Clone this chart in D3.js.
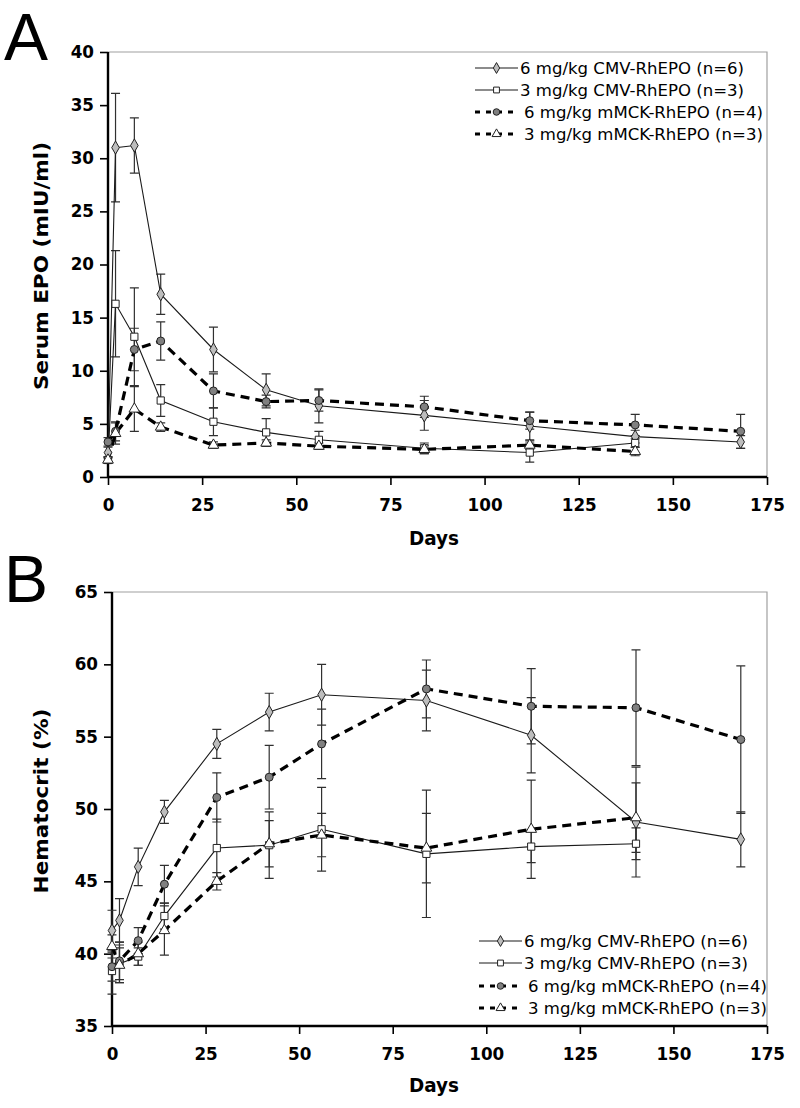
<!DOCTYPE html>
<html><head><meta charset="utf-8">
<script src="https://cdn.jsdelivr.net/npm/d3@7"></script>
<style>body{margin:0;background:#fff}svg{display:block}text{font-stretch:normal}</style>
</head><body>
<script>
// ---------- data ----------
const days = [0, 2, 7, 14, 28, 42, 56, 84, 112, 140, 168];
const seriesNames = ["6 mg/kg CMV-RhEPO (n=6)", "3 mg/kg CMV-RhEPO (n=3)", "6 mg/kg mMCK-RhEPO (n=4)", "3 mg/kg mMCK-RhEPO (n=3)"];
const xTicks = [0, 25, 50, 75, 100, 125, 150, 175];

// Panel A: serum EPO (mIU/ml)
const epoCmv6 = [2.3, 31.0, 31.2, 17.2, 12.0, 8.2, 6.7, 5.8, 4.8, 3.8, 3.3];
const epoCmv6Err = [0.5, 5.1, 2.6, 1.9, 2.1, 1.5, 1.6, 1.4, 1.3, 0.6, 0.6];
const epoCmv3 = [1.6, 16.3, 13.2, 7.2, 5.2, 4.2, 3.5, 2.7, 2.3, 3.2];
const epoCmv3Err = [0.3, 5.0, 4.6, 1.5, 1.3, 1.3, 0.8, 0.5, 0.9, 0.4];
const epoMck6 = [3.3, 4.3, 12.0, 12.8, 8.1, 7.1, 7.2, 6.6, 5.3, 4.9, 4.3];
const epoMck6Err = [0.4, 0.9, 2.0, 1.8, 1.6, 0.6, 1.0, 1.0, 0.8, 1.0, 1.6];
const epoMck3 = [1.6, 4.1, 6.4, 4.7, 3.0, 3.2, 2.9, 2.6, 3.0, 2.4];
const epoMck3Err = [0.3, 1.0, 2.1, 0.4, 0.3, 0.3, 0.3, 0.4, 0.4, 0.4];
const epoTicks = [0, 5, 10, 15, 20, 25, 30, 35, 40];

// Panel B: hematocrit (%)
const hctCmv6 = [41.6, 42.3, 46.0, 49.8, 54.5, 56.7, 57.9, 57.5, 55.1, 49.1, 47.9];
const hctCmv6Err = [1.4, 1.5, 1.3, 0.8, 1.0, 1.3, 2.1, 2.1, 2.6, 3.8, 1.9];
const hctCmv3 = [38.8, 39.3, 39.8, 42.6, 47.3, 47.5, 48.6, 46.9, 47.4, 47.6];
const hctCmv3Err = [1.6, 1.3, 0.6, 0.9, 2.0, 2.3, 2.9, 4.4, 1.1, 1.1];
const hctMck6 = [39.1, 39.5, 40.9, 44.8, 50.8, 52.2, 54.5, 58.3, 57.1, 57.0, 54.8];
const hctMck6Err = [1.0, 1.3, 0.9, 1.3, 1.7, 2.2, 2.4, 2.0, 2.6, 4.0, 5.1];
const hctMck3 = [40.5, 39.2, 40.0, 41.6, 45.0, 47.6, 48.2, 47.3, 48.6, 49.4];
const hctMck3Err = [0.8, 1.2, 0.8, 1.7, 0.6, 1.6, 1.5, 2.4, 3.4, 2.4];
const hctTicks = [35, 40, 45, 50, 55, 60, 65];

// ---------- styles ----------
const styles = [
  {shape: "diamond", fill: "#bdbdbd", dashed: false},
  {shape: "square", fill: "#ffffff", dashed: false},
  {shape: "circle", fill: "#808080", dashed: true},
  {shape: "triangle", fill: "#ffffff", dashed: true}
];
const FONT = "Verdana, 'DejaVu Sans', sans-serif";

const W = 800, H = 1108;
const svg = d3.select("body").append("svg").attr("width", W).attr("height", H);

// horizontally stretch a text selection so that its rendered width is scaled by `factor`
function stretch(sel, factor) {
  sel.each(function () {
    const w = this.getComputedTextLength();
    d3.select(this).attr("textLength", w * factor).attr("lengthAdjust", "spacingAndGlyphs");
  });
}
// factor needed for a sample string at given style to reach a target width
function factorFor(str, size, weight, target) {
  const t = svg.append("text").attr("font-family", FONT).attr("font-size", size)
    .attr("font-weight", weight).text(str);
  const w = t.node().getComputedTextLength();
  t.remove();
  return target / w;
}
const legendFactor = factorFor("6 mg/kg CMV-RhEPO (n=6)", 16, "normal", 224);
const tickFactor = factorFor("175", 17, "bold", 35);
const titleFactorA = factorFor("Serum EPO (mIU/ml)", 20, "bold", 248);

function symType(shape) {
  return {diamond: d3.symbolDiamond, square: d3.symbolSquare, circle: d3.symbolCircle, triangle: d3.symbolTriangle}[shape];
}
function markerPath(shape) {
  const size = {diamond: 50, square: 52, circle: 50, triangle: 50}[shape];
  return d3.symbol().type(symType(shape)).size(size)();
}

function panel(cfg) {
  const g = svg.append("g");
  const x = d3.scaleLinear().domain([0, 175]).range([cfg.x0, cfg.x1]);
  const y = d3.scaleLinear().domain(cfg.yDomain).range([cfg.yBottom, cfg.yTop]);

  // frame (top & right light gray)
  g.append("path").attr("d", `M${cfg.x0},${cfg.yTop}H${cfg.x1}V${cfg.yBottom}`)
    .attr("fill", "none").attr("stroke", "#a0a0a0").attr("stroke-width", 1.2);

  // axes
  const yAxis = d3.axisLeft(y).tickValues(cfg.yTicks).tickSize(8).tickPadding(6).tickFormat(d3.format("d"));
  const ya = g.append("g").attr("transform", `translate(${cfg.x0},0)`).call(yAxis);
  const xAxis = d3.axisBottom(x).tickValues(xTicks).tickSize(8).tickPadding(14).tickFormat(d3.format("d"));
  const xa = g.append("g").attr("transform", `translate(0,${cfg.yBottom})`).call(xAxis);
  [ya, xa].forEach(a => {
    a.select(".domain").attr("stroke", "#000").attr("stroke-width", 2.4);
    a.selectAll(".tick line").attr("stroke", "#000").attr("stroke-width", 1.6);
    a.selectAll(".tick text").attr("font-family", FONT).attr("font-weight", "bold")
      .attr("font-size", 17).attr("fill", "#000");
    stretch(a.selectAll(".tick text"), tickFactor);
  });
  ya.select(".domain").attr("d", `M0,${cfg.yBottom}V${cfg.yTop}`);
  xa.select(".domain").attr("d", `M${cfg.x0},0H${cfg.x1}`);

  // titles
  const dt = g.append("text").attr("x", 434).attr("y", cfg.xTitleY).attr("text-anchor", "middle")
    .attr("font-family", FONT).attr("font-weight", "bold").attr("font-size", 19).text("Days");
  stretch(dt, 50 / dt.node().getComputedTextLength());
  const yt = g.append("text").attr("transform", `translate(${cfg.yTitleX},${cfg.yTitleY}) rotate(-90)`)
    .attr("text-anchor", "middle").attr("font-family", FONT).attr("font-weight", "bold")
    .attr("font-size", 20).text(cfg.yTitle);
  stretch(yt, titleFactorA);
  g.append("text").attr("x", 4).attr("y", cfg.letterY).attr("font-family", "Liberation Sans")
    .attr("font-size", 66).text(cfg.letter);

  const data = cfg.series.map((s, i) => ({
    style: styles[i],
    pts: s.vals.map((v, j) => ({d: days[j], v: v, e: s.errs[j]}))
  }));

  // error bars
  data.forEach(s => {
    const eg = g.append("g").attr("stroke", "#303030").attr("stroke-width", 1.2).attr("fill", "none");
    s.pts.forEach(p => {
      const cx = x(p.d), t = y(p.v + p.e), b = y(p.v - p.e), c = 4.5;
      eg.append("path").attr("d", `M${cx},${t}V${b}M${cx - c},${t}H${cx + c}M${cx - c},${b}H${cx + c}`);
    });
  });
  // lines
  const line = d3.line().x(p => x(p.d)).y(p => y(p.v));
  data.forEach(s => {
    g.append("path").datum(s.pts).attr("d", line).attr("fill", "none")
      .attr("stroke", s.style.dashed ? "#000" : "#1a1a1a")
      .attr("stroke-width", s.style.dashed ? 3.2 : 1.1)
      .attr("stroke-dasharray", s.style.dashed ? "9,6" : null);
  });
  // markers
  data.forEach(s => {
    g.append("g").selectAll("path").data(s.pts).join("path")
      .attr("d", markerPath(s.style.shape))
      .attr("transform", p => `translate(${x(p.d)},${y(p.v)})`)
      .attr("fill", s.style.fill).attr("stroke", "#222").attr("stroke-width", 1);
  });

  // legend
  const lg = g.append("g");
  seriesNames.forEach((name, i) => {
    const st = styles[i];
    const ly = cfg.legendY[i];
    const l0 = cfg.legendX, l1 = cfg.legendX + 43;
    if (st.dashed) {
      lg.append("path").attr("d", `M${l0},${ly}H${l1}`).attr("stroke", "#000").attr("stroke-width", 3)
        .attr("stroke-dasharray", "5,6");
    } else {
      lg.append("path").attr("d", `M${l0},${ly}H${l1}`).attr("stroke", "#1a1a1a").attr("stroke-width", 1.1);
    }
    lg.append("path").attr("d", d3.symbol().type(symType(st.shape)).size(34)())
      .attr("transform", `translate(${(l0 + l1) / 2},${ly})`).attr("fill", st.fill).attr("stroke", "#222").attr("stroke-width", 1);
    const tx = lg.append("text").attr("x", l1 + (st.dashed ? 6 : 2)).attr("y", ly).attr("dy", "0.36em")
      .attr("font-family", FONT).attr("font-size", 16).attr("fill", "#000").text(name);
    stretch(tx, legendFactor);
  });
}

panel({
  letter: "A", letterY: 60,
  x0: 108, x1: 767, yTop: 52, yBottom: 477, yDomain: [0, 40], yTicks: epoTicks,
  xTitleY: 545, yTitleX: 48, yTitleY: 266, yTitle: "Serum EPO (mIU/ml)",
  legendX: 475, legendY: [68, 90, 112, 134],
  series: [
    {vals: epoCmv6, errs: epoCmv6Err},
    {vals: epoCmv3, errs: epoCmv3Err},
    {vals: epoMck6, errs: epoMck6Err},
    {vals: epoMck3, errs: epoMck3Err}
  ]
});

panel({
  letter: "B", letterY: 602,
  x0: 112, x1: 767, yTop: 592, yBottom: 1026, yDomain: [35, 65], yTicks: hctTicks,
  xTitleY: 1092, yTitleX: 48, yTitleY: 801, yTitle: "Hematocrit (%)",
  legendX: 479, legendY: [941, 963, 986, 1008],
  series: [
    {vals: hctCmv6, errs: hctCmv6Err},
    {vals: hctCmv3, errs: hctCmv3Err},
    {vals: hctMck6, errs: hctMck6Err},
    {vals: hctMck3, errs: hctMck3Err}
  ]
});
</script>
</body></html>
